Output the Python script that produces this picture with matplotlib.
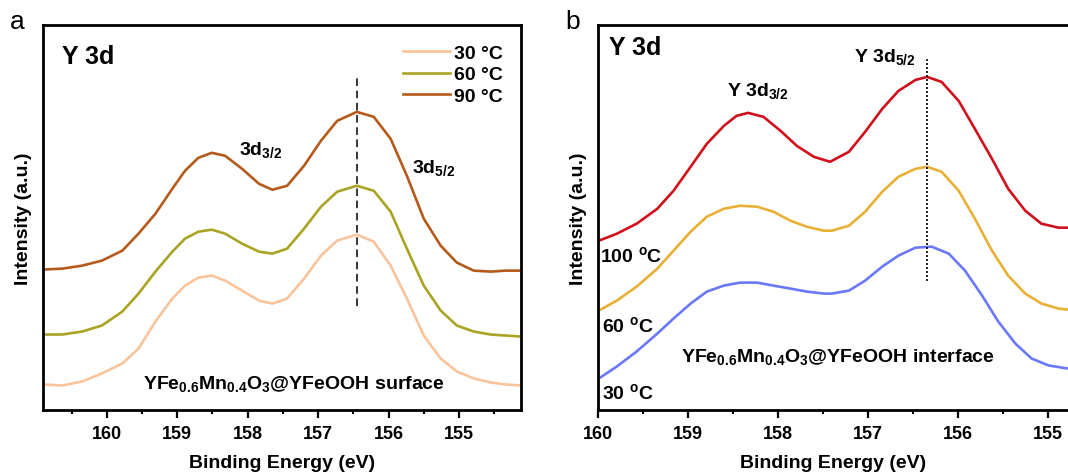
import numpy as np
import matplotlib
matplotlib.use('Agg')
import matplotlib.pyplot as plt
from matplotlib.ticker import MultipleLocator

plt.rcParams['font.family'] = ['Liberation Sans', 'DejaVu Sans']
plt.rcParams['font.weight'] = 'bold'
plt.rcParams['mathtext.fontset'] = 'custom'
plt.rcParams['mathtext.rm'] = 'Liberation Sans:bold'
plt.rcParams['mathtext.bf'] = 'Liberation Sans:bold'
plt.rcParams['mathtext.default'] = 'rm'
plt.rcParams['lines.solid_joinstyle'] = 'round'

# ---- panel a : surface (binding energy in eV, intensity in a.u.) ----
ea = [160.92, 160.63, 160.35, 160.07, 159.78, 159.55, 159.31, 159.07, 158.89, 158.70, 158.51, 158.32,
      158.08, 157.84, 157.65, 157.44, 157.20, 156.96, 156.73, 156.45, 156.21, 155.97, 155.74, 155.50,
      155.26, 155.03, 154.79, 154.55, 154.34, 154.12]
i90a = [141, 142, 145, 150, 160, 177, 197, 222, 240, 253, 258, 255,
        242, 227, 221, 225, 245, 270, 290, 299, 294, 272, 235, 192,
        165, 148, 140, 139, 140, 140]
i60a = [76, 76, 79, 85, 99, 117, 139, 159, 172, 179, 181, 177,
        167, 159, 157, 162, 182, 204, 219, 225, 220, 199, 162, 125,
        100, 85, 79, 76, 75, 74]
i30a = [26, 25, 29, 37, 47, 62, 89, 112, 125, 133, 135, 130,
        120, 110, 107, 112, 132, 155, 170, 176, 169, 145, 112, 75,
        52, 39, 32, 28, 26, 25]

# ---- panel b : interface ----
e100b = [159.99, 159.79, 159.57, 159.34, 159.16, 158.97, 158.79, 158.60, 158.46, 158.33, 158.16, 157.97,
         157.79, 157.60, 157.42, 157.21, 157.03, 156.84, 156.66, 156.47, 156.34, 156.18, 155.99, 155.81,
         155.62, 155.44, 155.25, 155.07, 154.88, 154.78]
i100b = [170, 177, 187, 202, 220, 244, 267, 285, 295, 298, 294, 280,
         265, 254, 249, 259, 279, 302, 320, 331, 334, 329, 310, 282,
         252, 222, 200, 187, 183, 183]

e60b = [159.99, 159.79, 159.57, 159.34, 159.16, 158.97, 158.79, 158.60, 158.42, 158.23, 158.05, 157.86,
        157.68, 157.49, 157.40, 157.21, 157.03, 156.84, 156.66, 156.47, 156.34, 156.18, 155.99, 155.81,
        155.62, 155.44, 155.25, 155.07, 154.88, 154.78]
i60b = [100, 110, 124, 142, 160, 179, 194, 202, 205, 204, 199, 190,
        184, 180, 180, 185, 199, 219, 234, 242, 244, 239, 220, 192,
        160, 135, 117, 107, 102, 101]

e30b = [159.99, 159.79, 159.57, 159.34, 159.16, 158.97, 158.79, 158.60, 158.42, 158.23, 158.05, 157.86,
        157.68, 157.49, 157.40, 157.21, 157.03, 156.84, 156.66, 156.47, 156.29, 156.10, 155.92, 155.73,
        155.55, 155.36, 155.18, 154.99, 154.78]
i30b = [32, 44, 59, 77, 92, 107, 119, 125, 128, 128, 125, 122,
        119, 117, 117, 120, 130, 144, 155, 163, 164, 157, 140, 115,
        89, 67, 52, 45, 42]

peak_a = 156.45
peak_b = 156.34

fig = plt.figure(figsize=(10.68, 4.77), dpi=100)

def style(ax, xmin, xmax, ymax):
    ax.set_xlim(xmin, xmax)
    ax.set_ylim(0, ymax)
    ax.set_yticks([])
    ax.xaxis.set_major_locator(MultipleLocator(1))
    ax.xaxis.set_minor_locator(MultipleLocator(0.5))
    ax.tick_params(axis='x', which='major', direction='out', length=5.5, width=1.6,
                   labelsize=13, pad=5)
    ax.tick_params(axis='x', which='minor', direction='out', length=3, width=1.5)
    for s in ax.spines.values():
        s.set_linewidth(2.0)
    for lab in ax.get_xticklabels():
        lab.set_fontweight('bold')
    ax.set_xlabel('Binding Energy (eV)', fontsize=14, fontweight='bold', labelpad=9)
    ax.set_ylabel('Intensity (a.u.)', fontsize=14, fontweight='bold', labelpad=8)

# a
ax1 = fig.add_axes([0.040, 0.1375, 0.4478, 0.808])
ax1.plot(ea, i30a, color='#F8C49C', lw=1.9, label='30 °C')
ax1.plot(ea, i60a, color='#A9A423', lw=1.9, label='60 °C')
ax1.plot(ea, i90a, color='#B65A1C', lw=1.9, label='90 °C')
ax1.plot([peak_a, peak_a], [105, 336], color='k', lw=1.1, ls=(0, (5, 3)))
style(ax1, 160.91, 154.12, 386)
ax1.text(160.63, 355, 'Y 3d', fontsize=18, fontweight='bold', va='center')
ax1.text(158.12, 262, '3d$_{3/2}$', fontsize=14, va='center')
ax1.text(155.67, 244, '3d$_{5/2}$', fontsize=14, va='center')
ax1.text(157.35, 27, 'YFe$_{0.6}$Mn$_{0.4}$O$_{3}$@YFeOOH surface', fontsize=14,
         ha='center', va='center')
ax1.legend(loc='upper right', bbox_to_anchor=(0.99, 0.985), frameon=False, fontsize=14,
           handlelength=2.4, handletextpad=0.2, labelspacing=0.2, borderaxespad=0.3)
fig.text(0.009, 1 - 29 / 477, 'a', fontsize=19, fontweight='normal', va='baseline')

# b
ax2 = fig.add_axes([0.5599, 0.1375, 0.4405, 0.808])
ax2.plot(e100b, i100b, color='#D0101C', lw=1.9)
ax2.plot(e60b, i60b, color='#E8B034', lw=1.9)
ax2.plot(e30b, i30b, color='#6A78FA', lw=1.9)
ax2.plot([peak_b, peak_b], [130, 352], color='k', lw=1.2, ls=(0, (1.2, 1.2)))
style(ax2, 160.0, 154.77, 386)
ax2.spines['right'].set_visible(False)
ax2.text(159.88, 364, 'Y 3d', fontsize=18, fontweight='bold', va='center')
ax2.text(157.15, 355, 'Y 3d$_{5/2}$', fontsize=14, va='center')
ax2.text(158.57, 321, 'Y 3d$_{3/2}$', fontsize=14, va='center')
ax2.text(159.98, 156, '100 $^{o}$C', fontsize=14, va='center')
ax2.text(159.95, 86, '60 $^{o}$C', fontsize=14, va='center')
ax2.text(159.96, 18, '30 $^{o}$C', fontsize=14, va='center')
ax2.text(157.33, 54, 'YFe$_{0.6}$Mn$_{0.4}$O$_{3}$@YFeOOH interface', fontsize=14,
         ha='center', va='center')
fig.text(0.529, 1 - 29 / 477, 'b', fontsize=19, fontweight='normal', va='baseline')

fig.savefig('out.png', dpi=100)
